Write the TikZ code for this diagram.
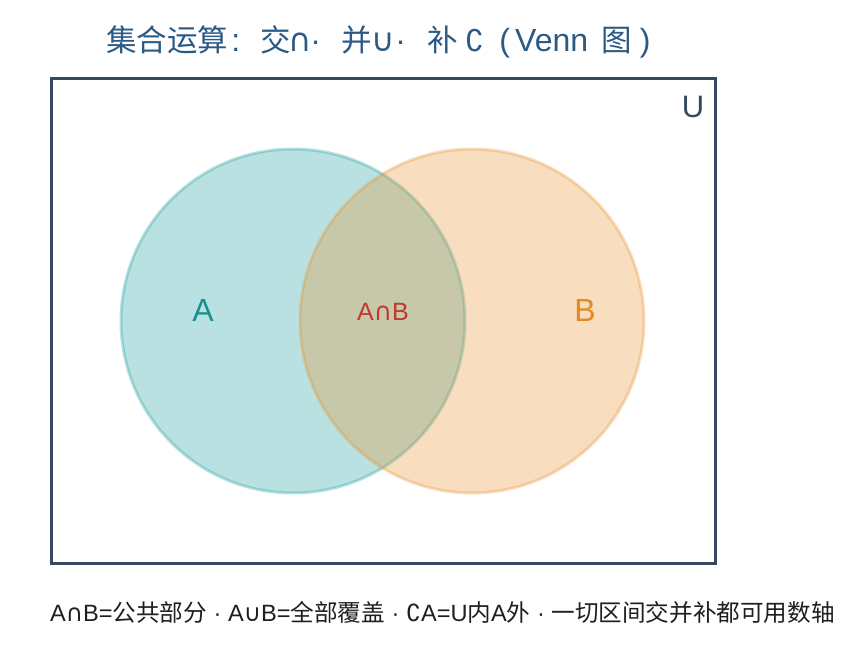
\documentclass[tikz,border=0pt]{standalone}
\usepackage{fontspec}
\setmainfont{Liberation Sans}
\newfontfamily\cjk{Noto Sans CJK SC}
\newfontfamily\djv{DejaVu Sans}
\newcommand\zh[1]{{\cjk #1}}
\newcommand\sy[1]{{\djv #1}}
% place a glyph centred at #1pt from the start of the line
\newcommand\gl[2]{\rlap{\hspace*{#1pt}\makebox[0pt]{#2}}}
\definecolor{frame}{HTML}{34495E}
\definecolor{titleblue}{HTML}{2B5A84}
\definecolor{tealA}{HTML}{1A9C9C}
\definecolor{orangeB}{HTML}{E8912A}
\definecolor{labA}{HTML}{17918F}
\definecolor{labB}{HTML}{E08A20}
\definecolor{labAB}{HTML}{C0392B}
\begin{document}
\begin{tikzpicture}[x=1pt,y=-1pt,
  setA/.style={fill=tealA,fill opacity=0.3,draw=tealA,draw opacity=0.3,line width=3pt},
  setB/.style={fill=orangeB,fill opacity=0.3,draw=orangeB,draw opacity=0.3,line width=3pt},
  lbl/.style={inner sep=0pt,anchor=center}]
\useasboundingbox (0,0) rectangle (862,652);
\fill[white] (0,0) rectangle (862,652);
\node[lbl,anchor=base west,text=titleblue,font=\fontsize{32}{36}\selectfont] (title) at (106,52)
  {\rlap{\zh{\fontsize{30.5}{34}\selectfont 集合运算}}%
   \gl{129.5}{:}%
   \gl{170}{\zh{\fontsize{30.5}{34}\selectfont 交}}%
   \gl{194.5}{\sy{\fontsize{32}{34}\selectfont ∩}}%
   \gl{209.5}{·}%
   \gl{250.5}{\zh{\fontsize{30.5}{34}\selectfont 并}}%
   \gl{277}{\sy{\fontsize{32}{34}\selectfont ∪}}%
   \gl{294.5}{·}%
   \gl{336.5}{\zh{\fontsize{30.5}{34}\selectfont 补}}%
   \gl{369}{\sy{\fontsize{30}{32}\selectfont ∁}}%
   \gl{398.5}{(}%
   \rlap{\hspace*{409pt}Venn}%
   \gl{511}{\zh{\fontsize{30.5}{34}\selectfont 图}}%
   \gl{539}{)}%
   \hspace*{546pt}};
\draw[frame,line width=3pt] (51,79) rectangle (715,563);
\node[lbl,text=frame,font=\fontsize{31}{34}\selectfont] (U) at (693,107) {U};
\path[setA] (293,321) circle (172);
\path[setB] (472,321) circle (172);
\node[lbl,text=labA,font=\fontsize{32}{36}\selectfont] (A) at (203,310) {A};
\node[lbl,text=labB,font=\fontsize{32}{36}\selectfont] (B) at (585,310) {B};
\node[lbl,text=labAB,font=\fontsize{25}{28}\selectfont] (AB) at (383,312) {A\sy{∩}B};
\node[lbl,anchor=west,text=black!88,font=\fontsize{23.6}{26}\selectfont] (note) at (50,612) {A\sy{∩}B=\zh{公共部分} · A\sy{∪}B=\zh{全部覆盖} · \sy{∁}A=U\zh{内}A\zh{外} · \zh{一切区间交并补都可用数轴}};
\end{tikzpicture}
\end{document}
